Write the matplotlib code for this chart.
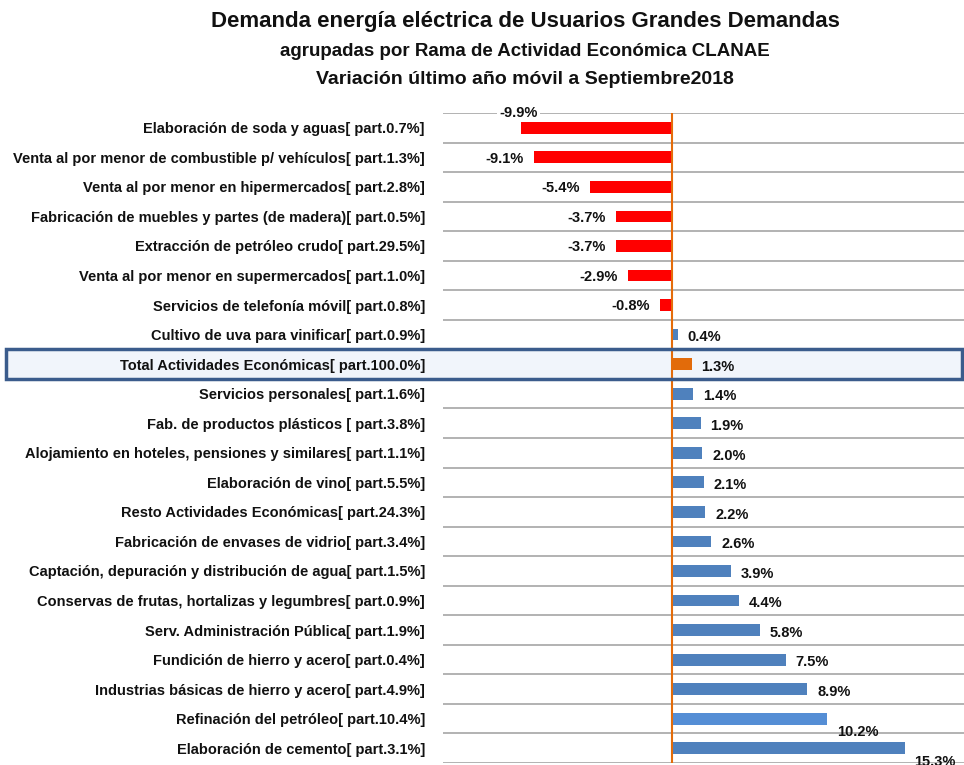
import matplotlib
matplotlib.use("Agg")
import matplotlib.pyplot as plt
from matplotlib.patches import Rectangle
from matplotlib import font_manager

names = {f.name for f in font_manager.fontManager.ttflist}
fam = ['Liberation Sans Narrow', 'DejaVu Sans'] if 'Liberation Sans Narrow' in names else ['Liberation Sans', 'DejaVu Sans']
plt.rcParams['font.family'] = fam

categories = [
    "Elaboración de soda y aguas[ part.0.7%]",
    "Venta al por menor de combustible p/ vehículos[ part.1.3%]",
    "Venta al por menor en hipermercados[ part.2.8%]",
    "Fabricación de muebles y partes (de madera)[ part.0.5%]",
    "Extracción de petróleo crudo[ part.29.5%]",
    "Venta al por menor en supermercados[ part.1.0%]",
    "Servicios de telefonía móvil[ part.0.8%]",
    "Cultivo de uva para vinificar[ part.0.9%]",
    "Total Actividades Económicas[ part.100.0%]",
    "Servicios personales[ part.1.6%]",
    "Fab. de productos plásticos [ part.3.8%]",
    "Alojamiento en hoteles, pensiones y similares[ part.1.1%]",
    "Elaboración de vino[ part.5.5%]",
    "Resto Actividades Económicas[ part.24.3%]",
    "Fabricación de envases de vidrio[ part.3.4%]",
    "Captación, depuración y distribución de agua[ part.1.5%]",
    "Conservas de frutas, hortalizas y legumbres[ part.0.9%]",
    "Serv. Administración Pública[ part.1.9%]",
    "Fundición de hierro y acero[ part.0.4%]",
    "Industrias básicas de hierro y acero[ part.4.9%]",
    "Refinación del petróleo[ part.10.4%]",
    "Elaboración de cemento[ part.3.1%]",
]
values = [-9.9, -9.1, -5.4, -3.7, -3.7, -2.9, -0.8, 0.4, 1.3, 1.4, 1.9, 2.0, 2.1, 2.2, 2.6, 3.9, 4.4, 5.8, 7.5, 8.9, 10.2, 15.3]
total_label = "Total Actividades Económicas[ part.100.0%]"

W, H = 964, 765
fig = plt.figure(figsize=(W / 100, H / 100), dpi=100)
ax_left, ax_right, ax_top, ax_bot = 443, 964, 113, 763
ax = fig.add_axes([ax_left / W, 1 - ax_bot / H, (ax_right - ax_left) / W, (ax_bot - ax_top) / H])
ax.patch.set_alpha(0)
ax.set_zorder(2)

n = len(categories)
ypos = list(range(n))
colors = []
for c, v in zip(categories, values):
    if c == total_label:
        colors.append('#E26B0A')
    elif v < 0:
        colors.append('#FF0000')
    elif c.startswith("Refinación"):
        colors.append('#558ED5')
    else:
        colors.append('#4F81BD')

ax.barh(ypos, values, height=0.4, color=colors, zorder=3)
ax.set_xlim(-15.05, 19.2)
ax.set_ylim(n - 0.5, -0.5)
ax.axvline(0, color='#E46C0A', lw=1.5, zorder=4)
for b in range(n + 1):
    ax.axhline(b - 0.5, color='#A6A6A6', lw=1.2, zorder=1)
for s in ax.spines.values():
    s.set_visible(False)
ax.set_xticks([])
ax.set_yticks(ypos)
ax.set_yticklabels(categories, fontsize=10.5, fontweight='bold', color='#111111')
ax.tick_params(axis='y', length=0, pad=13)

# data labels
for i, v in enumerate(values):
    lab = f"{v:.1f}%"
    if i == 0:
        ax.annotate(lab, (v, i - 0.5), xytext=(-2, 0), textcoords='offset points', ha='center', va='center',
                    fontsize=10.5, fontweight='bold', color='#111111', zorder=5,
                    bbox=dict(boxstyle='square,pad=0.15', fc='white', ec='none'))
    elif v < 0:
        ax.annotate(lab, (v, i), xytext=(-7, -1), textcoords='offset points', ha='right', va='center',
                    fontsize=10.5, fontweight='bold', color='#111111', zorder=5)
    elif v >= 10:
        ax.annotate(lab, (v, i + 0.5), xytext=(7, 1), textcoords='offset points', ha='left', va='center',
                    fontsize=10.5, fontweight='bold', color='#111111', zorder=5)
    else:
        ax.annotate(lab, (v, i), xytext=(7, -2), textcoords='offset points', ha='left', va='center',
                    fontsize=10.5, fontweight='bold', color='#111111', zorder=5)

# highlighted total row box: fill below the axes, frame above
ti = categories.index(total_label)
yc = ax_top + (ti + 0.5) * (ax_bot - ax_top) / n
rect = ((6 / W, 1 - (yc + 15) / H), (W - 8) / W, 30 / H)
fig.add_artist(Rectangle(*rect, transform=fig.transFigure, facecolor='#F1F5FB', edgecolor='none', zorder=1))
fig.add_artist(Rectangle(*rect, transform=fig.transFigure, facecolor='none', edgecolor='#3B5C8C', lw=2.5, zorder=3))

fig.text(525 / W, 1 - 22 / H, "Demanda energía eléctrica de Usuarios Grandes Demandas", ha='center', va='center',
         fontsize=16, fontweight='bold', color='#111111')
fig.text(525 / W, 1 - 52 / H, "agrupadas por Rama de Actividad Económica CLANAE", ha='center', va='center',
         fontsize=13.5, fontweight='bold', color='#111111')
fig.text(525 / W, 1 - 80 / H, "Variación último año móvil a Septiembre2018", ha='center', va='center',
         fontsize=14, fontweight='bold', color='#111111')

fig.savefig("out.png", dpi=100)
